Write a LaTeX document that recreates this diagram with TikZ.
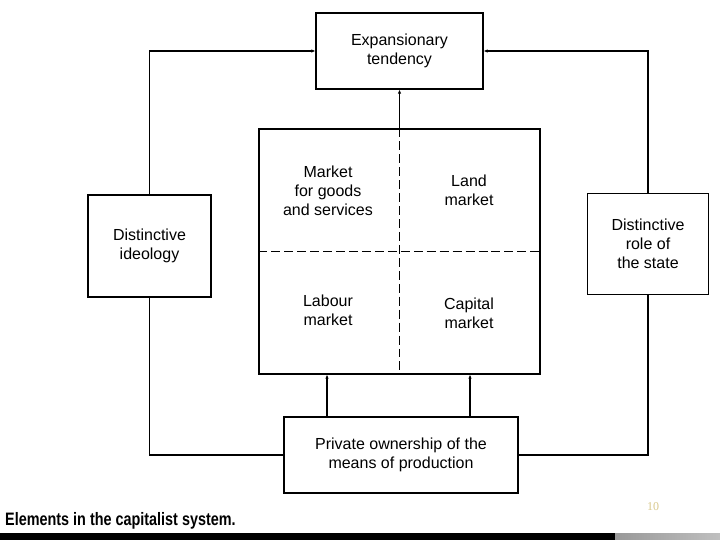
\documentclass[tikz,border=0pt]{standalone}
\usepackage{fontspec}
\setmainfont{Liberation Sans}
\newfontfamily\pagenumfont{Liberation Serif}
\usetikzlibrary{arrows.meta}
\definecolor{pagenum}{HTML}{D8C88C}
\tikzset{
  box/.style={draw, line width=1.3pt, inner sep=0pt, align=center,
    font=\fontsize{16bp}{19bp}\selectfont},
  conn/.style={line width=1.1pt},
  arr/.style={line width=1.1pt, -{Latex[length=4pt,width=3.5pt]}},
  divider/.style={line width=1.1pt, dash pattern=on 9pt off 4pt},
  lbl/.style={align=center, font=\fontsize{16bp}{19bp}\selectfont}
}
\begin{document}
\begin{tikzpicture}[x=1bp, y=-1bp]
\useasboundingbox (0,0) rectangle (720,540);
% boxes
\node[box, minimum width=167bp, minimum height=76bp] (top) at (399.5,51) {Expansionary\\tendency};
\node[box, minimum width=281bp, minimum height=245bp] (mid) at (399.5,251.5) {};
\node[box, minimum width=123bp, minimum height=102bp] (ideo) at (149.5,246) {Distinctive\\ideology};
\node[box, minimum width=121bp, minimum height=101bp] (state) at (648,244) {Distinctive\\role of\\the state};
\node[box, minimum width=234bp, minimum height=76bp] (own) at (401,455) {Private ownership of the\\means of production};
% quadrants
\draw[divider] (mid.north) -- (mid.south);
\draw[divider] (mid.west) -- (mid.east);
\node[lbl] (goods) at (328,191) {Market\\for goods\\and services};
\node[lbl] (land) at (469,190) {Land\\market};
\node[lbl] (labour) at (328,310) {Labour\\market};
\node[lbl] (capital) at (469,313) {Capital\\market};
% connectors
\draw[arr] (ideo.north) |- (top.west);
\draw[arr] (state.north) |- (top.east);
\draw[arr] (mid.north) -- (top.south);
\draw[conn] (ideo.south) |- (own.west);
\draw[conn] (state.south) |- (own.east);
\coordinate (la) at (327,0);
\coordinate (ca) at (470,0);
\draw[arr] (own.north -| la) -- (mid.south -| la);
\draw[arr] (own.north -| ca) -- (mid.south -| ca);
% caption and footer
\node[anchor=base west, inner sep=0pt, font=\fontsize{18bp}{21bp}\selectfont\bfseries] (cap) at (5,525) {\scalebox{0.8}[1]{Elements in the capitalist system.}};
\node[anchor=base, inner sep=0pt, text=pagenum, font=\pagenumfont\fontsize{12bp}{14bp}\selectfont] (num) at (653,510) {10};
\fill[black] (0,533) rectangle (720,540);
\shade[left color=gray!80, right color=gray!50] (615,533) rectangle (720,540);
\end{tikzpicture}
\end{document}
